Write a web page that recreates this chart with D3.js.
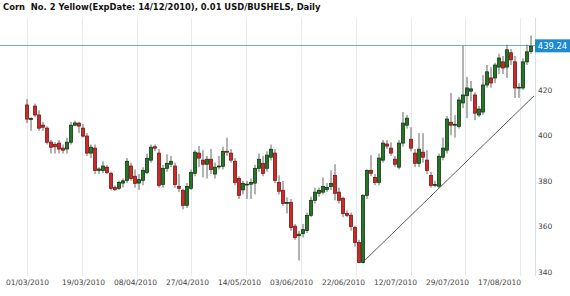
<!DOCTYPE html>
<html>
<head>
<meta charset="utf-8">
<script src="https://cdn.jsdelivr.net/npm/d3@7"></script>
<style>
  body { margin: 0; background: #fff; }
  svg { display: block; }
</style>
</head>
<body>
<script>
const width = 570;
const height = 296;

// daily candles, 01/03/2010 .. end of August 2010
const open = [413.4, 407, 412.9, 409, 404.5, 403.2, 397, 396, 396.6, 394.4, 394, 397, 404.5, 405.4, 403.2, 399.7, 392.2, 394.4, 384.6, 384.6, 386, 383.3, 377, 376.7, 379, 380.2, 386.5, 382,
  379, 380.2, 383.7, 389.1, 395, 392.2, 378.4, 385.5, 387.3, 386.5, 377.5, 375.8, 369.2, 376.7, 383.3, 392.2, 389.1, 387.3, 389.5, 383, 386.1, 386.4, 393, 392.2, 388.6, 381, 376, 378.5, 378.5, 379, 385.5, 387.7,
  385.5, 390.4, 392.2, 379.3, 375.8, 370, 370.5, 360, 355.8, 356.8, 358.1, 364.8, 371.4, 374.5, 375, 376.2, 377.5, 382.4, 375, 372.3, 365.6, 364.8, 359.4, 352.8, 344, 373.6, 384.6, 381.5, 379.3, 389.1, 396.2, 394.4, 389.5,
  386, 396.6, 404.5, 398.3, 392.2, 387.7, 392.6, 389.1, 382.4, 378, 377.6, 390.4, 393.5, 405.8, 404.5, 404, 414.3, 417.5, 419.5, 417.8, 409, 410.3, 422.2, 425.3, 425.3, 430.1, 432.4, 430.1, 436.4, 432.4, 420.9, 420.9, 432.4, 437];
const high = [416, 408, 414, 411, 406, 404, 398, 397, 398, 396, 399, 406, 406.5, 406, 405, 401, 396, 396, 386, 388.6, 387, 384, 378, 380, 381, 390, 388, 385,
  383, 386, 392, 396, 396, 394, 387, 391.7, 391, 388, 383, 376.5, 379, 385, 393.5, 395.3, 393.5, 391, 394, 388, 391, 395, 399, 394, 390, 382, 380, 380, 381, 387, 392, 391,
  393, 396, 394, 382.4, 380, 372.7, 372, 361, 358, 361, 366, 373, 377, 377, 381.5, 379, 384.6, 387.3, 377, 373, 367, 366, 360.3, 354, 374, 385, 391.3, 383, 392, 398, 398, 397, 391,
  398, 410.3, 409, 403.6, 394, 401, 401, 393.5, 384, 380, 392, 399, 408.5, 418.7, 409, 417, 439.4, 425.7, 424, 419, 413, 426.6, 431, 430, 432, 436, 435, 440, 438, 435, 423, 434, 440, 444];
const low = [405.4, 402, 408, 402, 402, 396, 392, 392, 392, 392, 392, 396, 404, 401, 399, 391, 390, 383, 383, 383.3, 383, 375.8, 375.5, 376, 377, 379, 380, 377,
  376, 378, 383, 388, 393, 377, 377, 384, 386, 377, 375, 367.4, 368, 376, 382, 386, 381.5, 381, 383, 381, 385, 385, 391, 388, 378, 372, 374, 372, 372, 374, 384, 382,
  384, 389, 379, 374, 369, 365.6, 358, 354, 344.9, 355, 357, 364, 370, 373, 374, 375, 376, 371.4, 370, 364, 364, 358, 351, 344, 343.6, 372, 382, 378, 378, 388, 394, 391, 386,
  385, 395, 403, 393, 386, 386, 388, 383, 377, 377.2, 376.8, 389, 392, 400, 399, 403, 412, 407.6, 415, 406.7, 408, 409, 421, 421, 423, 427, 427, 425.3, 431, 416.5, 416.5, 420, 431, 436];
const close = [407.2, 407.5, 409, 403.2, 403.6, 397, 394.8, 395, 394, 393.5, 397, 404.5, 405.5, 404.1, 399.7, 392.2, 394.8, 384.6, 385.2, 386.5, 383.7, 376.7, 376.2, 379.3, 380, 388.6, 381, 378.9,
  380.5, 384.6, 389.9, 394.8, 394.4, 378, 385.5, 387.7, 388.6, 378.4, 376.7, 369.2, 377.5, 383.7, 392.6, 390, 387.3, 389.5, 385, 386, 386.5, 393, 392.6, 389.1, 379.3, 373.6, 378.9, 378.5, 379.3, 385.5, 389.5, 383.3,
  391.3, 393.9, 380.2, 375.4, 370, 370.5, 359.4, 355, 356.5, 358.5, 364.8, 371.4, 375, 375.8, 377.5, 377.1, 378.9, 374.5, 371.4, 365.6, 364.8, 359.9, 352.8, 344, 373.6, 384.6, 383.3, 379.3, 390, 396.6, 395.3, 392.2, 387.3,
  396.6, 405.4, 407.6, 394.4, 387.7, 393.9, 390.4, 384.6, 378, 378.4, 390.8, 394.4, 407.2, 404.5, 404.9, 415.6, 417.8, 420.9, 420.5, 409.8, 411.6, 422.2, 428, 423.1, 431, 434.1, 429.7, 437.7, 433.3, 420.9, 421.2, 432.4, 436.8, 439.24];

const dateLabels = ["01/03/2010", "19/03/2010", "08/04/2010", "27/04/2010", "14/05/2010", "03/06/2010", "22/06/2010", "12/07/2010", "29/07/2010", "17/08/2010"];
const dateIndex = [0, 14, 27, 40, 53, 66, 79, 92, 105, 118];
const priceTicks = [340, 360, 380, 400, 420];
const lastPrice = 439.24;
// support line drawn on the chart (bar index, price)
const trendLine = [[84, 344.2], [126.75, 417.4]];

const title = "Corn  No. 2 Yellow(ExpDate: 14/12/2010), 0.01 USD/BUSHELS, Daily";

const candles = close.map((c, i) => ({i: i, o: open[i], h: high[i], l: low[i], c: c}));

const plot = {left: 0, right: 535, top: 18, bottom: 276};

const x = d3.scaleLinear().domain([0, candles.length - 1]).range([27, 531]);
const y = d3.scaleLinear().domain([340, 420]).range([271.6, 90]);

const svg = d3.select("body").append("svg")
    .attr("width", width)
    .attr("height", height);

// vertical grid, evenly spaced
const gridStep = 13.7;
svg.append("g")
    .selectAll("line")
    .data(d3.range(10).map(k => k * gridStep))
    .join("line")
    .attr("x1", d => Math.round(x(d)) + 0.5)
    .attr("x2", d => Math.round(x(d)) + 0.5)
    .attr("y1", plot.top)
    .attr("y2", plot.bottom)
    .attr("stroke", "#e3ebf1")
    .attr("stroke-width", 1);

// right axis border
svg.append("line")
    .attr("x1", plot.right + 0.5).attr("x2", plot.right + 0.5)
    .attr("y1", plot.top).attr("y2", plot.bottom)
    .attr("stroke", "#d3e0ea");

// price axis on the right
const yAxis = svg.append("g")
    .attr("transform", `translate(${plot.right},0)`)
    .call(d3.axisRight(y).tickValues(priceTicks).tickSize(0).tickPadding(3));
yAxis.select(".domain").remove();
yAxis.selectAll("text")
    .attr("font-family", "DejaVu Sans, Verdana, sans-serif")
    .attr("font-size", 7.5)
    .attr("fill", "#444");

// date labels
const xAxis = svg.append("g")
    .attr("transform", `translate(0,${plot.bottom})`)
    .call(d3.axisBottom(x).tickValues(dateIndex).tickFormat((d, k) => dateLabels[k]).tickSize(0).tickPadding(4));
xAxis.select(".domain").remove();
xAxis.selectAll("text")
    .attr("font-family", "DejaVu Sans, Verdana, sans-serif")
    .attr("font-size", 7.5)
    .attr("fill", "#444");

// last price line
svg.append("line")
    .attr("x1", plot.left).attr("x2", plot.right)
    .attr("y1", Math.round(y(lastPrice)) - 0.5).attr("y2", Math.round(y(lastPrice)) - 0.5)
    .attr("stroke", "#6fa8d6")
    .attr("stroke-width", 1);

// candles
const bodyW = 3;
const g = svg.append("g");
g.selectAll("line.wick")
    .data(candles)
    .join("line")
    .attr("class", "wick")
    .attr("x1", d => x(d.i))
    .attr("x2", d => x(d.i))
    .attr("y1", d => y(d.h))
    .attr("y2", d => y(d.l))
    .attr("stroke", "#666")
    .attr("stroke-width", 1);

g.selectAll("rect")
    .data(candles)
    .join("rect")
    .attr("x", d => x(d.i) - bodyW / 2)
    .attr("y", d => y(Math.max(d.o, d.c)))
    .attr("width", bodyW)
    .attr("height", d => Math.max(0.8, Math.abs(y(d.o) - y(d.c))))
    .attr("fill", d => d.c >= d.o ? "#267526" : "#cc2a2a")
    .attr("stroke", d => d.c >= d.o ? "#0e3a0e" : "#7a1515")
    .attr("stroke-width", 0.8);

// trend line
svg.append("line")
    .attr("x1", x(trendLine[0][0])).attr("y1", y(trendLine[0][1]))
    .attr("x2", x(trendLine[1][0])).attr("y2", y(trendLine[1][1]))
    .attr("stroke", "#333")
    .attr("stroke-width", 0.8);

// last price tag
const tag = svg.append("g").attr("transform", `translate(${plot.right},${y(lastPrice)})`);
tag.append("rect")
    .attr("x", 0).attr("y", -7)
    .attr("width", 35).attr("height", 13)
    .attr("fill", "#1b8ad3");
tag.append("text")
    .attr("x", 17.5).attr("y", 3)
    .attr("text-anchor", "middle")
    .attr("font-family", "DejaVu Sans, Verdana, sans-serif")
    .attr("font-size", 8.4)
    .attr("fill", "#fff")
    .text(lastPrice.toFixed(2));

// title
svg.append("text")
    .attr("x", 3)
    .attr("y", 10)
    .attr("font-family", "DejaVu Sans, Verdana, sans-serif")
    .attr("font-weight", "bold")
    .attr("font-size", 8.4)
    .attr("fill", "#111")
    .style("white-space", "pre")
    .text(title);
</script>
</body>
</html>
